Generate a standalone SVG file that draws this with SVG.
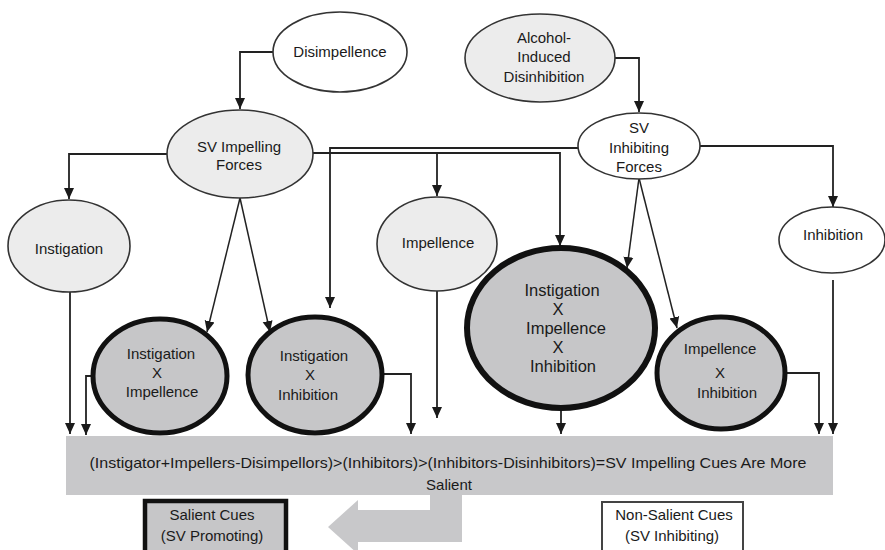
<svg xmlns="http://www.w3.org/2000/svg" width="885" height="550" viewBox="0 0 885 550">
<style>
text{font-family:"Liberation Sans",Arial,Helvetica,sans-serif;font-size:15px;fill:#1a1a1a;text-anchor:middle}
.big{font-size:16.5px}
.thin{stroke:#333;stroke-width:1.6}
.light{fill:#ececec}
.white{fill:#fff}
.mid{fill:#c6c6c8;stroke:#111;stroke-width:5}
.mid2{fill:#c6c6c8;stroke:#111;stroke-width:6}
.c{fill:none;stroke:#222;stroke-width:1.8}
.cd{fill:none;stroke:#222;stroke-width:1.5}
</style>
<defs>
<marker id="ah" markerUnits="userSpaceOnUse" markerWidth="12" markerHeight="12" refX="11" refY="5" orient="auto" viewBox="0 0 12 10">
<path d="M0,0 L11,5 L0,10 z" fill="#1a1a1a"/>
</marker>
</defs>
<rect width="885" height="550" fill="#fff"/>

<g id="connectors">
<path class="c" d="M273,52 H240 V109" marker-end="url(#ah)"/>
<path class="c" d="M167,154 H69 V199" marker-end="url(#ah)"/>
<path class="c" d="M313,153 H560 V246" marker-end="url(#ah)"/>
<path class="c" d="M437,153 V196" marker-end="url(#ah)"/>
<path class="c" d="M578,148 H330 V308" marker-end="url(#ah)"/>
<path class="c" d="M614,58 H639 V112" marker-end="url(#ah)"/>
<path class="c" d="M700,146 H833 V207" marker-end="url(#ah)"/>
<path class="cd" d="M240,198 L207,332" marker-end="url(#ah)"/>
<path class="cd" d="M240,198 L270,332" marker-end="url(#ah)"/>
<path class="cd" d="M639,178 L627,268" marker-end="url(#ah)"/>
<path class="cd" d="M639,178 L677,328" marker-end="url(#ah)"/>
<path class="c" d="M70,292 V434" marker-end="url(#ah)"/>
<path class="c" d="M93,376 H86 V435" marker-end="url(#ah)"/>
<path class="c" d="M382,374 H411 V434" marker-end="url(#ah)"/>
<path class="c" d="M437,291 V418" marker-end="url(#ah)"/>
<path class="c" d="M561,408 V434" marker-end="url(#ah)"/>
<path class="c" d="M785,373 H819 V434" marker-end="url(#ah)"/>
<path class="c" d="M833,280 V434" marker-end="url(#ah)"/>
</g>

<g id="disimpellence">
<ellipse class="white thin" cx="340" cy="52" rx="67" ry="40"/>
<text x="340" y="57">Disimpellence</text>
</g>
<g id="sv-impelling">
<ellipse class="light thin" cx="240" cy="154" rx="73" ry="44"/>
<text x="239" y="152">SV Impelling</text>
<text x="239" y="170">Forces</text>
</g>
<g id="alcohol">
<ellipse class="light thin" cx="540" cy="58" rx="75" ry="44"/>
<text x="544" y="43">Alcohol-</text>
<text x="544" y="62">Induced</text>
<text x="544" y="82">Disinhibition</text>
</g>
<g id="sv-inhibiting">
<ellipse class="white thin" cx="639" cy="146" rx="61" ry="33"/>
<text x="639" y="133">SV</text>
<text x="639" y="153">Inhibiting</text>
<text x="639" y="172">Forces</text>
</g>
<g id="instigation">
<ellipse class="light thin" cx="69" cy="246" rx="61" ry="46"/>
<text x="69" y="254">Instigation</text>
</g>
<g id="impellence">
<ellipse class="light thin" cx="437" cy="244" rx="60" ry="47"/>
<text x="438" y="248">Impellence</text>
</g>
<g id="inhibition">
<ellipse class="white thin" cx="832" cy="240" rx="53" ry="33"/>
<text x="833" y="240">Inhibition</text>
</g>
<g id="inst-x-imp">
<ellipse class="mid" cx="160" cy="376" rx="67" ry="57"/>
<text x="161" y="359">Instigation</text>
<text x="157" y="378">X</text>
<text x="162" y="397">Impellence</text>
</g>
<g id="inst-x-inh">
<ellipse class="mid" cx="315" cy="375" rx="67" ry="58"/>
<text x="314" y="361">Instigation</text>
<text x="310" y="380">X</text>
<text x="308" y="400">Inhibition</text>
</g>
<g id="inst-x-imp-x-inh">
<ellipse class="mid2" cx="561" cy="328" rx="94" ry="80"/>
<text class="big" x="562" y="296">Instigation</text>
<text class="big" x="558" y="315">X</text>
<text class="big" x="566" y="334">Impellence</text>
<text class="big" x="558" y="353">X</text>
<text class="big" x="563" y="372">Inhibition</text>
</g>
<g id="imp-x-inh">
<ellipse class="mid" cx="721" cy="373" rx="64" ry="56"/>
<text x="720" y="354">Impellence</text>
<text x="720" y="378">X</text>
<text x="727" y="398">Inhibition</text>
</g>

<g id="bar">
<rect x="66" y="436" width="767" height="59" fill="#c8c8ca"/>
<text x="448" y="468" textLength="717" lengthAdjust="spacingAndGlyphs">(Instigator+Impellers-Disimpellors)&gt;(Inhibitors)&gt;(Inhibitors-Disinhibitors)=SV Impelling Cues Are More</text>
<text x="449" y="490">Salient</text>
</g>

<g id="big-arrow">
<path d="M430,495 H462 V542 H358 V554 L328,527 L358,500 V510 H430 Z" fill="#c8c8ca"/>
</g>

<g id="salient-cues">
<rect x="145" y="501" width="141" height="52" fill="#c6c6c8" stroke="#111" stroke-width="4.5"/>
<text x="212" y="520">Salient Cues</text>
<text x="212" y="541">(SV Promoting)</text>
</g>
<g id="non-salient-cues">
<rect x="602" y="502" width="141" height="52" fill="#fff" stroke="#444" stroke-width="2"/>
<text x="674" y="520">Non-Salient Cues</text>
<text x="672" y="541">(SV Inhibiting)</text>
</g>
</svg>
